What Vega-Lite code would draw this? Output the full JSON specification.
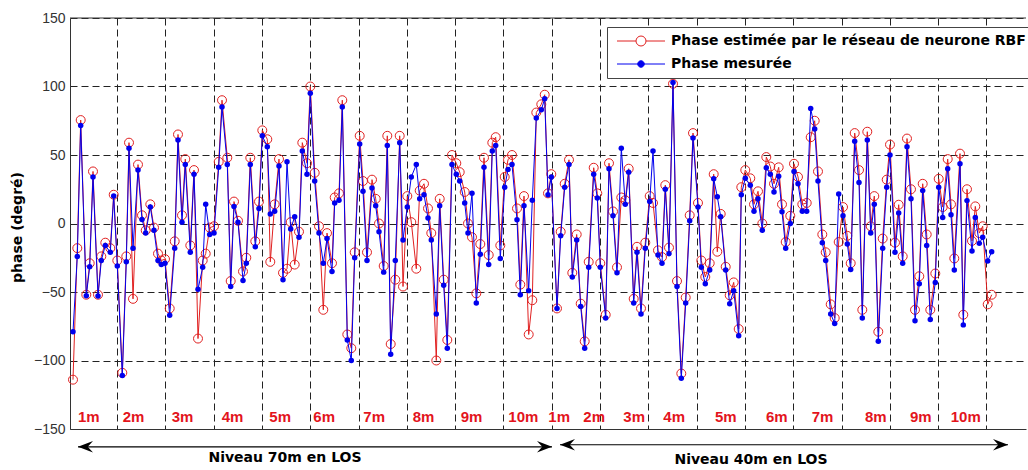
{
  "$schema": "https://vega.github.io/schema/vega-lite/v6.json",
  "width": 956,
  "height": 411,
  "autosize": {"type": "none"},
  "padding": {"left": 70, "top": 18, "right": 2, "bottom": 41},
  "background": "white",
  "config": {
    "view": {"stroke": null},
    "font": "Liberation Sans"
  },
  "datasets": {
    "phase": [
      {"x":3,"estimee":-114,"mesuree":-79},{"x":7.3,"estimee":-18,"mesuree":-24},{"x":10.7,"estimee":75.5,"mesuree":71.5},{"x":16.3,"estimee":-52,"mesuree":-52.7},{"x":19.7,"estimee":-29,"mesuree":-31.6},{"x":23,"estimee":38,"mesuree":34},{"x":28,"estimee":-52,"mesuree":-53},{"x":31.3,"estimee":-24,"mesuree":-27},{"x":35.3,"estimee":-14,"mesuree":-16},{"x":40.3,"estimee":-18,"mesuree":-21},{"x":43.7,"estimee":21,"mesuree":20},{"x":47.3,"estimee":-27,"mesuree":-31},{"x":52.3,"estimee":-109,"mesuree":-111},{"x":56.3,"estimee":-24,"mesuree":-28},{"x":59,"estimee":59,"mesuree":55},{"x":63,"estimee":-55,"mesuree":-18},{"x":68,"estimee":43,"mesuree":39},{"x":72,"estimee":6,"mesuree":3},{"x":75.7,"estimee":-5,"mesuree":-7},{"x":80.3,"estimee":14,"mesuree":12},{"x":84,"estimee":-3,"mesuree":-5},{"x":88,"estimee":-22,"mesuree":-27},{"x":91.3,"estimee":-27,"mesuree":-30},{"x":95,"estimee":-26,"mesuree":-29},{"x":99.7,"estimee":-62,"mesuree":-67},{"x":104.7,"estimee":-13,"mesuree":-18},{"x":108,"estimee":65,"mesuree":61},{"x":112,"estimee":6,"mesuree":1},{"x":115.3,"estimee":47,"mesuree":43},{"x":120.3,"estimee":-16,"mesuree":-21},{"x":124,"estimee":39,"mesuree":36},{"x":128,"estimee":-84,"mesuree":-48},{"x":132.7,"estimee":-27,"mesuree":-32},{"x":135.7,"estimee":-22,"mesuree":14},{"x":139.7,"estimee":-3,"mesuree":-8},{"x":144,"estimee":-2,"mesuree":-7},{"x":148.7,"estimee":45,"mesuree":41},{"x":152,"estimee":90,"mesuree":85},{"x":157.3,"estimee":48,"mesuree":43},{"x":160.7,"estimee":-42,"mesuree":-46},
      {"x":164,"estimee":16,"mesuree":12.5},{"x":168,"estimee":2,"mesuree":1},{"x":173,"estimee":-35,"mesuree":-41.6},{"x":176.3,"estimee":-25,"mesuree":-29},{"x":180.3,"estimee":48,"mesuree":43},{"x":185.3,"estimee":-13,"mesuree":-17},{"x":189,"estimee":16,"mesuree":11},{"x":192.3,"estimee":68,"mesuree":64},{"x":197.3,"estimee":61.5,"mesuree":56},{"x":200.3,"estimee":-28,"mesuree":7},{"x":204.7,"estimee":14,"mesuree":9},{"x":209,"estimee":47,"mesuree":42},{"x":213,"estimee":-36,"mesuree":-41},{"x":217,"estimee":-33,"mesuree":45},{"x":220.7,"estimee":1,"mesuree":-4},{"x":224.7,"estimee":-30,"mesuree":5},{"x":229,"estimee":-6,"mesuree":-10},{"x":232.3,"estimee":59,"mesuree":53},{"x":237,"estimee":44,"mesuree":36},{"x":240.3,"estimee":100,"mesuree":95},{"x":244.7,"estimee":37,"mesuree":31},{"x":249,"estimee":-2,"mesuree":-7},{"x":253.3,"estimee":-63,"mesuree":-29},{"x":257,"estimee":-7,"mesuree":-11},{"x":262,"estimee":-29,"mesuree":-35},{"x":264.7,"estimee":19,"mesuree":15},{"x":269,"estimee":22,"mesuree":17},{"x":272.3,"estimee":90,"mesuree":85},{"x":277.3,"estimee":-81,"mesuree":-85},{"x":281.3,"estimee":-91,"mesuree":-100},{"x":284.7,"estimee":-21,"mesuree":-25},{"x":289.7,"estimee":64,"mesuree":58},{"x":293,"estimee":31,"mesuree":23.5},{"x":297,"estimee":-21,"mesuree":-27},{"x":302,"estimee":32,"mesuree":26},{"x":305.7,"estimee":18,"mesuree":13},{"x":309,"estimee":0,"mesuree":-6},{"x":313.7,"estimee":-31,"mesuree":-35.5},{"x":317.3,"estimee":64,"mesuree":57},{"x":320.7,"estimee":-88,"mesuree":-95.5},
      {"x":325.3,"estimee":-41,"mesuree":-27},{"x":329.7,"estimee":64,"mesuree":59},{"x":333,"estimee":-46,"mesuree":-12},{"x":337.3,"estimee":20,"mesuree":12},{"x":341.3,"estimee":1,"mesuree":34},{"x":346.3,"estimee":-33,"mesuree":43},{"x":349.7,"estimee":24,"mesuree":18},{"x":354,"estimee":29,"mesuree":21},{"x":358,"estimee":11,"mesuree":4},{"x":361.3,"estimee":-7,"mesuree":-12},{"x":366.3,"estimee":-100,"mesuree":-66},{"x":369.7,"estimee":18,"mesuree":13},{"x":373.7,"estimee":-41,"mesuree":-45},{"x":377.3,"estimee":-85,"mesuree":-91},{"x":382,"estimee":50,"mesuree":43},{"x":386.3,"estimee":44,"mesuree":36},{"x":389.7,"estimee":37.5,"mesuree":31},{"x":394.7,"estimee":23,"mesuree":15},{"x":398,"estimee":0,"mesuree":-7},{"x":402,"estimee":-10,"mesuree":22},{"x":406.3,"estimee":-51,"mesuree":-58},{"x":410.3,"estimee":-15,"mesuree":-22.5},{"x":414,"estimee":48,"mesuree":41},{"x":418.7,"estimee":-23,"mesuree":-30},{"x":422.3,"estimee":59,"mesuree":53},{"x":425.7,"estimee":63,"mesuree":57},{"x":430.3,"estimee":-16,"mesuree":-25.5},{"x":434.7,"estimee":34,"mesuree":26.5},{"x":438,"estimee":46.5,"mesuree":39.5},{"x":442,"estimee":50,"mesuree":43},{"x":447,"estimee":11,"mesuree":2.7},{"x":450.3,"estimee":-44.6,"mesuree":-52},{"x":454,"estimee":20,"mesuree":13},{"x":458.7,"estimee":-81,"mesuree":-49},{"x":462.3,"estimee":-56,"mesuree":17},{"x":466.3,"estimee":81,"mesuree":77},{"x":471.3,"estimee":87,"mesuree":83},{"x":474.7,"estimee":94,"mesuree":91},{"x":478,"estimee":22,"mesuree":21},{"x":481.3,"estimee":36,"mesuree":34},
      {"x":487,"estimee":-62,"mesuree":-62},{"x":490.7,"estimee":-6,"mesuree":-9},{"x":494.7,"estimee":29,"mesuree":26.5},{"x":499,"estimee":46.5,"mesuree":43},{"x":502.3,"estimee":-36,"mesuree":-39},{"x":506.7,"estimee":-8,"mesuree":-12},{"x":510.7,"estimee":-58.5,"mesuree":-60.5},{"x":514.7,"estimee":-86,"mesuree":-91},{"x":518.7,"estimee":-28,"mesuree":-32},{"x":523.7,"estimee":40.7,"mesuree":36},{"x":527.3,"estimee":22,"mesuree":18.6},{"x":530.3,"estimee":-29,"mesuree":-32},{"x":535.7,"estimee":-66.6,"mesuree":-69},{"x":539,"estimee":44,"mesuree":40},{"x":543,"estimee":8.8,"mesuree":5.6},{"x":547,"estimee":-32,"mesuree":-36},{"x":551.3,"estimee":19,"mesuree":55},{"x":555.3,"estimee":17,"mesuree":14},{"x":558.7,"estimee":40,"mesuree":37.5},{"x":563.7,"estimee":-55,"mesuree":-58},{"x":567,"estimee":-17,"mesuree":-21},{"x":571,"estimee":-62,"mesuree":-66},{"x":575.3,"estimee":-14,"mesuree":-18},{"x":579.7,"estimee":20,"mesuree":16},{"x":583,"estimee":15,"mesuree":53},{"x":588,"estimee":-19.6,"mesuree":-23},{"x":592,"estimee":-24.5,"mesuree":-29},{"x":595.3,"estimee":28,"mesuree":25},{"x":599,"estimee":-17.6,"mesuree":-22},{"x":603,"estimee":102,"mesuree":103},{"x":607,"estimee":-42,"mesuree":-46},{"x":611.3,"estimee":-109.5,"mesuree":-113},{"x":615.7,"estimee":-54,"mesuree":-58},{"x":619.7,"estimee":6,"mesuree":2},{"x":623,"estimee":66,"mesuree":62.5},{"x":628,"estimee":15,"mesuree":12},{"x":631.3,"estimee":-27,"mesuree":-32},{"x":635.3,"estimee":-39,"mesuree":-44},{"x":639.7,"estimee":-29,"mesuree":-34},
      {"x":643.7,"estimee":36,"mesuree":32.6},{"x":647.3,"estimee":-20.6,"mesuree":19.6},{"x":650.7,"estimee":7,"mesuree":5},{"x":655.7,"estimee":-31.6,"mesuree":-34},{"x":659.7,"estimee":-52.4,"mesuree":-58.5},{"x":663.7,"estimee":-43,"mesuree":-49},{"x":668.7,"estimee":-77,"mesuree":-82},{"x":671.3,"estimee":26.5,"mesuree":21},{"x":675.3,"estimee":39,"mesuree":33},{"x":680.3,"estimee":33,"mesuree":28},{"x":684,"estimee":14,"mesuree":9},{"x":688,"estimee":23.5,"mesuree":18},{"x":692.3,"estimee":0,"mesuree":-5},{"x":696.3,"estimee":48.5,"mesuree":40.7},{"x":700.3,"estimee":41.6,"mesuree":36},{"x":704,"estimee":29,"mesuree":23},{"x":708.7,"estimee":41,"mesuree":34.5},{"x":712,"estimee":14,"mesuree":8.6},{"x":715.7,"estimee":-13.5,"mesuree":-18},{"x":720.3,"estimee":5.6,"mesuree":0},{"x":724,"estimee":43.6,"mesuree":38},{"x":728,"estimee":34,"mesuree":29},{"x":732.3,"estimee":14,"mesuree":9},{"x":736.7,"estimee":15,"mesuree":9},{"x":740.7,"estimee":63,"mesuree":84},{"x":744.7,"estimee":75,"mesuree":69},{"x":748,"estimee":38,"mesuree":31},{"x":752.3,"estimee":-8,"mesuree":-14},{"x":755.7,"estimee":-21,"mesuree":-27},{"x":760.7,"estimee":-59,"mesuree":-66},{"x":764.7,"estimee":-69,"mesuree":-73},{"x":768.7,"estimee":-13.5,"mesuree":21.5},{"x":773,"estimee":12,"mesuree":5.6},{"x":777.3,"estimee":-9,"mesuree":-15},{"x":780.7,"estimee":-29,"mesuree":-33.5},{"x":784.7,"estimee":66,"mesuree":60},{"x":789,"estimee":39,"mesuree":30},{"x":792.3,"estimee":-63,"mesuree":-69},{"x":797.3,"estimee":67,"mesuree":61},{"x":800.7,"estimee":-2,"mesuree":-7},
      {"x":804.3,"estimee":20,"mesuree":14},{"x":808.3,"estimee":-79,"mesuree":-86},{"x":812.7,"estimee":-11,"mesuree":-18},{"x":816.7,"estimee":32,"mesuree":26.5},{"x":820,"estimee":57.6,"mesuree":50},{"x":825,"estimee":-14,"mesuree":-21},{"x":828.7,"estimee":13.7,"mesuree":7.6},{"x":832.7,"estimee":-24,"mesuree":-29},{"x":837,"estimee":62,"mesuree":56},{"x":841,"estimee":25,"mesuree":18},{"x":845,"estimee":-63,"mesuree":-71},{"x":849.3,"estimee":-38.5,"mesuree":-44},{"x":852.7,"estimee":29,"mesuree":24},{"x":856.7,"estimee":-8,"mesuree":-16},{"x":860.3,"estimee":-63,"mesuree":-70},{"x":865.3,"estimee":-36.5,"mesuree":-43},{"x":868.7,"estimee":32.6,"mesuree":26.5},{"x":872.7,"estimee":12,"mesuree":4.4},{"x":877.7,"estimee":47,"mesuree":40},{"x":881,"estimee":14,"mesuree":6.4},{"x":884.3,"estimee":-25.5,"mesuree":-34},{"x":890,"estimee":51,"mesuree":43.6},{"x":893.3,"estimee":-66.6,"mesuree":-74},{"x":897,"estimee":25,"mesuree":16.7},{"x":902,"estimee":-12.7,"mesuree":-20},{"x":905.3,"estimee":12.5,"mesuree":4.4},{"x":909.3,"estimee":-7,"mesuree":-14.5},{"x":912.7,"estimee":-2,"mesuree":-10},{"x":917.7,"estimee":-59,"mesuree":-27.4},{"x":921.7,"estimee":-52,"mesuree":-20.6}
    ],
    "labels": [
      {"x":8,"label":"1m"},{"x":52.7,"label":"2m"},{"x":101.7,"label":"3m"},{"x":151.7,"label":"4m"},{"x":199.3,"label":"5m"},{"x":243.3,"label":"6m"},{"x":293.3,"label":"7m"},{"x":342.7,"label":"8m"},{"x":390.7,"label":"9m"},{"x":438.3,"label":"10m"},
      {"x":478.3,"label":"1m"},{"x":513.3,"label":"2m"},{"x":553.3,"label":"3m"},{"x":593.3,"label":"4m"},{"x":645,"label":"5m"},{"x":696,"label":"6m"},{"x":741.7,"label":"7m"},{"x":795,"label":"8m"},{"x":840,"label":"9m"},{"x":880.7,"label":"10m"}
    ],
    "arrows": [
      {"x":8,"x2":482,"y":-163},{"x":490,"x2":938,"y":-161.5}
    ],
    "heads": [
      {"x":8,"y":-163,"dir":"left"},{"x":482,"y":-163,"dir":"right"},{"x":490,"y":-161.5,"dir":"left"},{"x":938,"y":-161.5,"dir":"right"}
    ],
    "texts": [
      {"x":215,"y":-171.5,"t":"Niveau 70m en LOS"},{"x":681,"y":-172.5,"t":"Niveau 40m en LOS"}
    ]
  },
  "layer": [
    {
      "data": {"name": "phase"},
      "mark": {"type": "line", "strokeWidth": 1, "clip": true},
      "encoding": {
        "x": {"field": "x", "type": "quantitative",
          "scale": {"domain": [0, 956], "nice": false, "zero": false},
          "axis": {"title": null, "labels": false, "ticks": false, "domain": true, "domainColor": "#333",
            "values": [47,95.3,143.6,191.9,240.2,288.5,336.8,385.1,433.4,481.7,530,578.3,626.6,674.9,723.2,771.5,819.8,868.1,916.4],
            "grid": true, "gridDash": [7,4], "gridColor": "#222", "gridOpacity": 1, "gridWidth": 1}},
        "y": {"field": "estimee", "type": "quantitative",
          "scale": {"domain": [-150, 150], "nice": false, "zero": false},
          "axis": {"title": "phase (degré)", "values": [-150,-100,-50,0,50,100,150],
            "grid": true, "gridDash": [7,4], "gridColor": "#222", "gridOpacity": 1, "gridWidth": 1,
            "ticks": false, "labelPadding": 5, "labelFontSize": 14, "labelColor": "#333", "labelFont": "Liberation Sans",
            "domain": true, "domainColor": "#333",
            "titleFontSize": 14, "titleFontWeight": "bold", "titleFont": "DejaVu Sans", "titleColor": "#000",
            "titleX": -53, "titleY": 209, "titleAngle": 270, "titleAlign": "center", "titleBaseline": "middle"}},
        "color": {"datum": "estimee", "type": "nominal",
          "scale": {"domain": ["estimee", "mesuree"], "range": ["#e02020", "#0000ee"]},
          "legend": {
            "orient": "none", "legendX": 537, "legendY": 9, "title": null,
            "symbolSize": 100, "symbolStrokeWidth": 1, "symbolOffset": 20, "labelOffset": 23,
            "labelFont": "DejaVu Sans", "labelFontSize": 14, "labelFontWeight": "bold", "labelColor": "#000",
            "labelLimit": 400,
            "strokeColor": "#444", "fillColor": "white", "padding": 7, "rowPadding": 9,
            "labelExpr": "datum.value === 'estimee' ? 'Phase estimée par le réseau de neurone RBF' : 'Phase mesurée'",
            "encode": {"symbols": {"update": {
              "shape": {"signal": "datum.value === 'mesuree' ? 'M-4.8,0H4.8M0.65,0A0.65,0.65 0 1,1 -0.65,0A0.65,0.65 0 1,1 0.65,0' : 'M-4.8,0H-1M1,0H4.8M1,0A1,1 0 1,1 -1,0A1,1 0 1,1 1,0'"},
              "fill": {"signal": "datum.value === 'mesuree' ? '#0000ee' : 'transparent'"},
              "stroke": {"signal": "datum.value === 'mesuree' ? '#0000ee' : '#e02020'"},
              "strokeWidth": {"value": 1}
            }}}
          }}
      }
    },
    {
      "data": {"name": "phase"},
      "mark": {"type": "point", "filled": false, "stroke": "#e02020", "strokeWidth": 1, "size": 80, "opacity": 1},
      "encoding": {
        "x": {"field": "x", "type": "quantitative"},
        "y": {"field": "estimee", "type": "quantitative"}
      }
    },
    {
      "data": {"name": "phase"},
      "mark": {"type": "line", "strokeWidth": 1},
      "encoding": {
        "x": {"field": "x", "type": "quantitative"},
        "y": {"field": "mesuree", "type": "quantitative"},
        "color": {"datum": "mesuree", "type": "nominal"}
      }
    },
    {
      "data": {"name": "phase"},
      "mark": {"type": "point", "filled": true, "fill": "#0000ee", "strokeWidth": 0, "size": 30, "opacity": 1},
      "encoding": {
        "x": {"field": "x", "type": "quantitative"},
        "y": {"field": "mesuree", "type": "quantitative"}
      }
    },
    {
      "data": {"values": [{}]},
      "mark": {"type": "rule", "color": "#333", "strokeWidth": 1},
      "encoding": {"y": {"datum": 150, "type": "quantitative"}}
    },
    {
      "data": {"name": "labels"},
      "mark": {"type": "text", "align": "left", "baseline": "middle", "fontSize": 15, "fontWeight": "bold", "color": "#e3141c", "font": "Liberation Sans", "clip": false},
      "encoding": {
        "x": {"field": "x", "type": "quantitative"},
        "y": {"datum": -141, "type": "quantitative"},
        "text": {"field": "label"}
      }
    },
    {
      "data": {"name": "arrows"},
      "mark": {"type": "rule", "color": "#000", "strokeWidth": 1.2, "clip": false},
      "encoding": {
        "x": {"field": "x", "type": "quantitative"},
        "x2": {"field": "x2"},
        "y": {"field": "y", "type": "quantitative"}
      }
    },
    {
      "data": {"name": "heads"},
      "mark": {"type": "point", "filled": true, "color": "#000", "size": 900, "opacity": 1, "clip": false},
      "encoding": {
        "x": {"field": "x", "type": "quantitative"},
        "y": {"field": "y", "type": "quantitative"},
        "shape": {"field": "dir", "type": "nominal",
          "scale": {"domain": ["left", "right"], "range": ["M0,0L1,-0.38L0.65,0L1,0.38Z", "M0,0L-1,-0.38L-0.65,0L-1,0.38Z"]},
          "legend": null}
      }
    },
    {
      "data": {"name": "texts"},
      "mark": {"type": "text", "align": "center", "baseline": "middle", "fontSize": 14, "fontWeight": "bold", "color": "#000", "font": "DejaVu Sans", "clip": false},
      "encoding": {
        "x": {"field": "x", "type": "quantitative"},
        "y": {"field": "y", "type": "quantitative"},
        "text": {"field": "t"}
      }
    }
  ]
}
